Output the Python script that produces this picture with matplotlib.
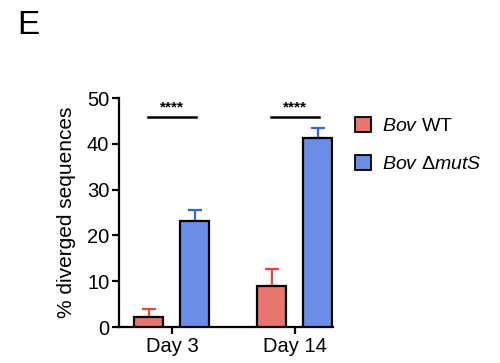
import numpy as np
import matplotlib
matplotlib.use('Agg')
import matplotlib.pyplot as plt
from matplotlib.patches import Patch

plt.rcParams['font.family'] = ['Liberation Sans', 'DejaVu Sans']
plt.rcParams['mathtext.fontset'] = 'custom'
plt.rcParams['mathtext.rm'] = 'Liberation Sans'
plt.rcParams['mathtext.it'] = 'Liberation Sans:italic'

# data
days = ['Day 3', 'Day 14']
wt_mean = [2.2, 8.9]
wt_err = [1.7, 3.8]
mut_mean = [23.1, 41.3]
mut_err = [2.4, 2.1]
sig_labels = ['****', '****']

fill_wt, fill_mut = '#E8766C', '#6A8DE8'
err_wt, err_mut = '#E8453C', '#2F66E2'

fig = plt.figure(figsize=(5, 3.63), dpi=100)
ax = fig.add_axes([0.238, 0.099, 0.428, 0.631])

x = np.arange(len(days))
off = 0.187
w = 0.236

ax.bar(x - off, wt_mean, width=w, color=fill_wt, edgecolor='black', linewidth=1.6, zorder=3)
ax.bar(x + off, mut_mean, width=w, color=fill_mut, edgecolor='black', linewidth=1.6, zorder=3)
ax.errorbar(x - off, wt_mean, yerr=[np.zeros(2), wt_err], fmt='none', ecolor=err_wt,
            elinewidth=1.6, capsize=4.8, capthick=1.6, zorder=2)
ax.errorbar(x + off, mut_mean, yerr=[np.zeros(2), mut_err], fmt='none', ecolor=err_mut,
            elinewidth=1.6, capsize=4.8, capthick=1.6, zorder=2)

# significance bars
for xi, s in zip(x, sig_labels):
    ax.plot([xi - off - 0.01, xi + off + 0.01], [45.8, 45.8], color='black', lw=1.8,
            clip_on=False)
    ax.text(xi, 46.4, s, ha='center', va='bottom', fontsize=11, fontweight='bold')

ax.set_xlim(-0.43, 1.31)
ax.set_ylim(0, 50)
ax.set_yticks([0, 10, 20, 30, 40, 50])
ax.set_xticks(x)
ax.set_xticklabels(days)
ax.tick_params(labelsize=14.5, width=1.6, length=5, colors='black', pad=2)
for side in ['top', 'right']:
    ax.spines[side].set_visible(False)
for side in ['left', 'bottom']:
    ax.spines[side].set_linewidth(1.6)
ax.set_ylabel('% diverged sequences', fontsize=15, labelpad=8)

handles = [Patch(facecolor=fill_wt, edgecolor='black', linewidth=1.3),
           Patch(facecolor=fill_mut, edgecolor='black', linewidth=1.3)]
labels = [r'$\mathit{Bov}$ WT', r'$\mathit{Bov}$ Δ$\mathit{mutS}$']
fig.legend(handles, labels, loc='upper left', bbox_to_anchor=(0.695, 0.70),
           frameon=False, fontsize=14, handlelength=0.8, handleheight=0.8,
           labelspacing=1.05, handletextpad=0.6, borderaxespad=0)

fig.text(0.034, 0.931, 'E', fontsize=24, va='center', ha='left')

fig.savefig('out.png', dpi=100)
